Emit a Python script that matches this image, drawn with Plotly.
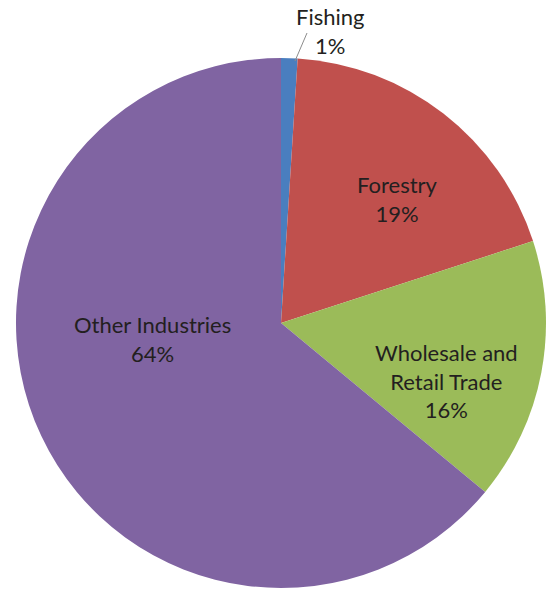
import plotly.graph_objects as go

# Share of employment by industry
categories = ["Fishing", "Forestry", "Wholesale and Retail Trade", "Other Industries"]
label_lines = ["Fishing", "Forestry", "Wholesale and<br>Retail Trade", "Other Industries"]
shares = [1, 19, 16, 64]
colors = ["#4A7EBF", "#C0504D", "#9BBB59", "#8064A2"]

W, H = 548, 589
cx, cy, r = 281, 323, 265  # pie centre and radius in pixels


def px(x):
    return x / W


def py(y):
    return 1 - y / H


fig = go.Figure(
    go.Pie(
        labels=categories,
        values=shares,
        sort=False,
        direction="clockwise",
        rotation=0,
        textinfo="none",
        hoverinfo="label+percent",
        marker=dict(colors=colors, line=dict(width=0)),
        domain=dict(x=[px(cx - r), px(cx + r)], y=[py(cy + r), py(cy - r)]),
        showlegend=False,
    )
)

# label anchor points (pixel centres of each text block)
label_pos = [(330, 31), (398, 199), (446, 381), (152, 339)]

annotations = []
for name, val, (lx, ly) in zip(label_lines, shares, label_pos):
    annotations.append(
        dict(
            x=px(lx), y=py(ly), xref="paper", yref="paper",
            text=f"{name}<br>{val}%",
            showarrow=False,
            xanchor="center", yanchor="middle",
            align="center",
            font=dict(family="Lato, 'Noto Sans', sans-serif", size=22, color="#231F20"),
        )
    )

fig.update_layout(
    width=W, height=H,
    margin=dict(l=0, r=0, t=0, b=0),
    paper_bgcolor="white",
    plot_bgcolor="white",
    annotations=annotations,
    shapes=[
        dict(
            type="line", xref="paper", yref="paper",
            x0=px(295), y0=py(61), x1=px(307), y1=py(33),
            line=dict(color="#8C8C8C", width=1),
        )
    ],
)

fig.write_html("out.html")
